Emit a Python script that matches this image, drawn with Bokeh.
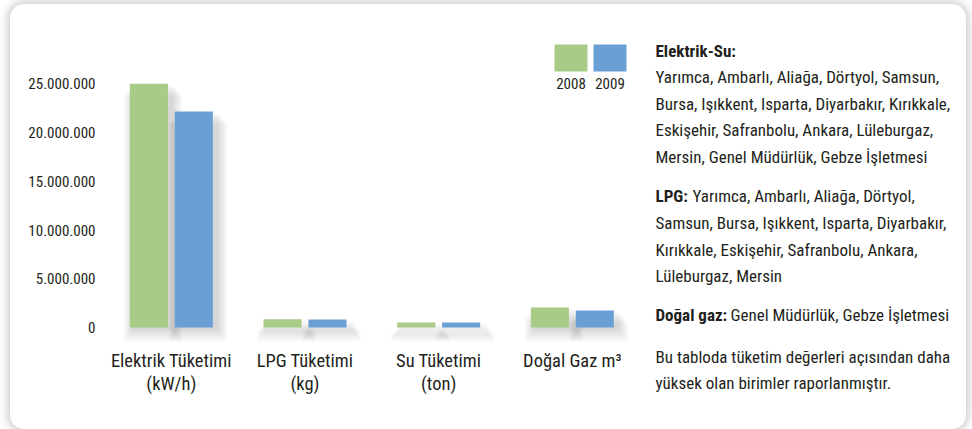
from bokeh.plotting import figure
from bokeh.models import Range1d, FixedTicker, Label, BoxAnnotation
from bokeh.core.properties import value
from bokeh.transform import dodge
from bokeh.embed import file_html
from bokeh.resources import INLINE

# ---- data ----
categories = ["Elektrik Tüketimi\n(kW/h)", "LPG Tüketimi\n(kg)", "Su Tüketimi\n(ton)", "Doğal Gaz m³"]
years = ["2008", "2009"]
values_2008 = [25000000, 850000, 520000, 2050000]
values_2009 = [22150000, 830000, 520000, 1750000]
y_ticks = [0, 5000000, 10000000, 15000000, 20000000, 25000000]
y_tick_labels = ["0", "5.000.000", "10.000.000", "15.000.000", "20.000.000", "25.000.000"]

notes = [
    [("Elektrik-Su:", True)],
    [("Yarımca, Ambarlı, Aliağa, Dörtyol, Samsun,", False)],
    [("Bursa, Işıkkent, Isparta, Diyarbakır, Kırıkkale,", False)],
    [("Eskişehir, Safranbolu, Ankara, Lüleburgaz,", False)],
    [("Mersin, Genel Müdürlük, Gebze İşletmesi", False)],
    [("LPG:", True), ("Yarımca, Ambarlı, Aliağa, Dörtyol,", False)],
    [("Samsun, Bursa, Işıkkent, Isparta, Diyarbakır,", False)],
    [("Kırıkkale, Eskişehir, Safranbolu, Ankara,", False)],
    [("Lüleburgaz, Mersin", False)],
    [("Doğal gaz:", True), ("Genel Müdürlük, Gebze İşletmesi", False)],
    [("Bu tabloda tüketim değerleri açısından daha", False)],
    [("yüksek olan birimler raporlanmıştır.", False)],
]

# ---- style / layout ----
GREEN = "#a8cc88"
BLUE = "#6a9fd6"
TEXT = "#231f20"
FONT = "Liberation Sans Narrow, Roboto Condensed, DejaVu Sans Condensed, Open Sans, sans-serif"

CARD_X, CARD_Y = 10, 4
CARD_W, CARD_H = 956, 425
FL = 94                          # frame left inside card
FW = CARD_W - FL                 # frame spans the rest of the card
ZERO_Y = 323                     # baseline px from top of card
PX_PER_UNIT = 9.75 / 1e6
UNIT_PX = 133.67                 # px per category slot

y_start = -(CARD_H - ZERO_Y) / PX_PER_UNIT
y_end = ZERO_Y / PX_PER_UNIT

p = figure(width=CARD_W, height=CARD_H, output_backend="svg", toolbar_location=None,
           x_range=Range1d(0, FW / UNIT_PX), y_range=Range1d(y_start, y_end),
           x_axis_location=None,
           min_border_left=FL, min_border_top=0, min_border_right=0, min_border_bottom=0,
           margin=(CARD_Y, 0, 0, CARD_X))
p.styles = {"border-radius": "14px", "background-color": "white",
            "box-shadow": "0 0 9px 3px rgba(0,0,0,0.20)"}
p.outline_line_color = None
p.background_fill_color = None
p.border_fill_color = None
p.xgrid.visible = False
p.ygrid.visible = False

x_pos = [i + 0.5 for i in range(len(categories))]
src = dict(x=x_pos, cat=categories, v2008=values_2008, v2009=values_2009)

off = 0.168
bw = 0.285
# soft drop shadows under the bars
for i in range(1, 9):
    ext = i * 2.6 / UNIT_PX
    for o, key in ((-off, "v2008"), (off, "v2009")):
        sh = dict(x=x_pos, top=[v - i * 0.15e6 for v in src[key]])
        p.vbar(x=dodge("x", o + 4 / UNIT_PX), top="top",
               bottom=-(i * 0.18e6), width=bw + ext, source=sh,
               fill_color="black", fill_alpha=0.018, line_color=None)

p.vbar(x=dodge("x", -off), top="v2008", width=bw, source=src,
       fill_color=GREEN, line_color=None)
p.vbar(x=dodge("x", off), top="v2009", width=bw, source=src,
       fill_color=BLUE, line_color=None)

# category labels under the bars
p.text(x="x", y=-2.35e6, text="cat", source=src, text_align="center",
       text_baseline="top", text_font=value(FONT), text_font_size="18.5px",
       text_color=TEXT, text_line_height=1.02)

# y axis
p.yaxis.ticker = FixedTicker(ticks=y_ticks)
p.yaxis.major_label_overrides = {t: s for t, s in zip(y_ticks, y_tick_labels)}
p.yaxis.axis_line_color = None
p.yaxis.major_tick_line_color = None
p.yaxis.minor_tick_line_color = None
p.yaxis.major_tick_out = 0
p.yaxis.minor_tick_out = 0
p.yaxis.major_label_text_font = FONT
p.yaxis.major_label_text_color = TEXT
p.yaxis.major_label_text_font_size = "15px"
p.yaxis.major_label_standoff = 9

# legend (swatches above labels), frame-relative screen units
sw = [(450, 483, GREEN, "2008"), (489, 522, BLUE, "2009")]
for l, r, c, t in sw:
    p.add_layout(BoxAnnotation(left=l, right=r, top=385, bottom=358,
                               left_units="screen", right_units="screen",
                               top_units="screen", bottom_units="screen",
                               fill_color=c, fill_alpha=1, line_color=None))
    p.add_layout(Label(x=(l + r) / 2, y=346, x_units="screen", y_units="screen",
                       text=t, text_align="center", text_baseline="middle",
                       text_font=FONT, text_font_size="15px", text_color=TEXT))

# notes on the right
line_y = [379, 353, 326, 300, 273, 234, 207, 180, 154, 115, 73, 47]
inline_x = {"LPG:": 588, "Doğal gaz:": 626}
for ly, parts in zip(line_y, notes):
    x = 551
    for txt, bold in parts:
        p.add_layout(Label(x=x, y=ly, x_units="screen", y_units="screen",
                           text=txt, text_align="left", text_baseline="middle",
                           text_font=FONT, text_font_size="17px",
                           text_font_style="bold" if bold else "normal",
                           text_color=TEXT))
        if bold and txt in inline_x:
            x = inline_x[txt]

open("out.html", "w").write(file_html(p, INLINE))
